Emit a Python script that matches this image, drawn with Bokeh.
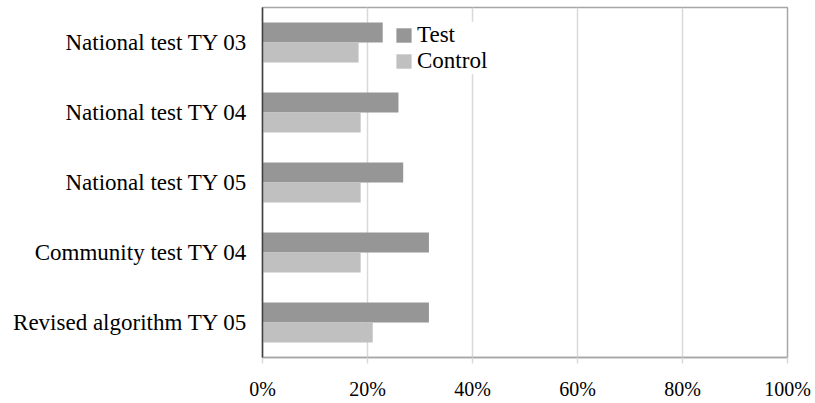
from bokeh.plotting import figure
from bokeh.models import FactorRange, Range1d, NumeralTickFormatter, ColumnDataSource, Legend, LegendItem, FixedTicker
from bokeh.transform import dodge
from bokeh.embed import file_html
from bokeh.resources import INLINE

categories = ["National test TY 03", "National test TY 04", "National test TY 05",
              "Community test TY 04", "Revised algorithm TY 05"]
test_values = [0.229, 0.259, 0.268, 0.317, 0.317]
control_values = [0.183, 0.187, 0.187, 0.187, 0.210]
x_ticks = [0, 0.2, 0.4, 0.6, 0.8, 1.0]
series_names = ["Test", "Control"]

src = ColumnDataSource(dict(cat=categories, test=test_values, control=control_values))

FONT = "Liberation Serif"

p = figure(width=812, height=402,
           y_range=FactorRange(*reversed(categories)), x_range=Range1d(0, 1),
           output_backend="svg", toolbar_location=None,
           min_border_left=262, min_border_right=25, min_border_top=7, min_border_bottom=43)

r1 = p.hbar(y=dodge("cat", 0.142, range=p.y_range), left=0, right="test", height=0.284,
            source=src, fill_color="#969696", line_color=None)
r2 = p.hbar(y=dodge("cat", -0.142, range=p.y_range), left=0, right="control", height=0.284,
            source=src, fill_color="#c0c0c0", line_color=None)

legend = Legend(items=[LegendItem(label=series_names[0], renderers=[r1]),
                       LegendItem(label=series_names[1], renderers=[r2])],
                location=(132, 283))
legend.glyph_width = 19
legend.glyph_height = 18
legend.label_standoff = 4
legend.label_height = 25
legend.spacing = 0
legend.padding = 5
legend.margin = 0
legend.border_line_color = None
legend.background_fill_color = "white"
legend.background_fill_alpha = 1.0
legend.label_text_font = FONT
legend.label_text_font_size = "23px"
legend.label_text_color = "black"
p.add_layout(legend)

p.xgrid.ticker = FixedTicker(ticks=x_ticks)
p.xgrid.grid_line_color = "#d9d9d9"
p.xgrid.grid_line_width = 1.5
p.ygrid.grid_line_color = None

p.xaxis.ticker = FixedTicker(ticks=x_ticks)
p.xaxis.formatter = NumeralTickFormatter(format="0%")
p.xaxis.axis_line_color = "#a6a6a6"
p.xaxis.axis_line_width = 1.5
p.xaxis.major_tick_out = 6
p.xaxis.major_tick_in = 0
p.xaxis.major_tick_line_color = "#d9d9d9"
p.xaxis.major_tick_line_width = 1.5
p.xaxis.minor_tick_line_color = None
p.xaxis.major_label_text_font = FONT
p.xaxis.major_label_text_font_size = "20px"
p.xaxis.major_label_text_color = "black"
p.xaxis.major_label_standoff = 14

p.yaxis.axis_line_color = "#404040"
p.yaxis.axis_line_width = 1.5
p.yaxis.major_tick_line_color = None
p.yaxis.major_tick_out = 0
p.yaxis.major_tick_in = 0
p.yaxis.major_label_text_font = FONT
p.yaxis.major_label_text_font_size = "23px"
p.yaxis.major_label_text_color = "black"
p.yaxis.major_label_standoff = 15

p.outline_line_color = "#a6a6a6"
p.outline_line_width = 1.5
p.background_fill_color = "white"
p.border_fill_color = "white"

open("out.html", "w").write(file_html(p, INLINE))
